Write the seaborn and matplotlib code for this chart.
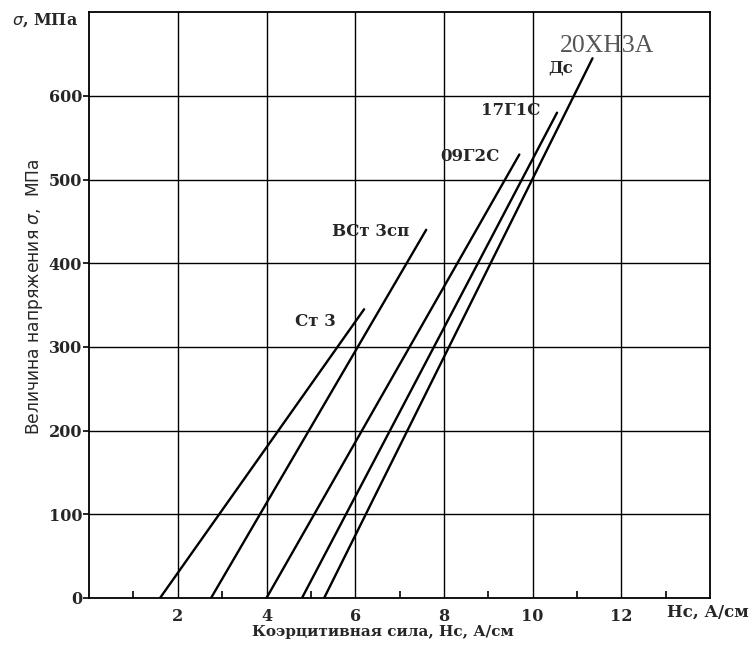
import numpy as np
import pandas as pd
import matplotlib
matplotlib.use("Agg")
import matplotlib.pyplot as plt
from matplotlib.ticker import FixedLocator
import seaborn as sns

# ── Data: straight calibration lines sigma(Hc), from sigma=0 to the top end ──
materials = ["Ст 3", "ВСт 3сп", "09Г2С", "17Г1С", "Дс"]
hc_start = [1.6, 2.75, 4.0, 4.8, 5.3]        # Hc at sigma = 0, A/cm
hc_end = [6.2, 7.6, 9.7, 10.55, 11.35]       # Hc at upper end, A/cm
sigma_end = [345, 440, 530, 580, 645]        # sigma at upper end, MPa

x_ticks = [2, 4, 6, 8, 10, 12]
x_minor = [1, 3, 5, 7, 9, 11, 13]
y_ticks = [0, 100, 200, 300, 400, 500, 600]

rows = []
for m, x0, x1, y1 in zip(materials, hc_start, hc_end, sigma_end):
    rows.append({"material": m, "Hc": x0, "sigma": 0})
    rows.append({"material": m, "Hc": x1, "sigma": y1})
df = pd.DataFrame(rows)

# ── Style ──
sns.set_style("white")
plt.rcParams["font.family"] = ["DejaVu Serif"]
BOLD = dict(family=["DejaVu Serif"], fontweight="bold")

fig = plt.figure(figsize=(7.49, 6.45), dpi=100)
ax = fig.add_axes([0.119, 0.073, 0.829, 0.908])

sns.lineplot(data=df, x="Hc", y="sigma", units="material", estimator=None,
             color="black", linewidth=1.7, ax=ax, legend=False)

ax.set_xlim(0, 14)
ax.set_ylim(0, 700)

# grid
for v in x_ticks:
    ax.axvline(v, color="black", linewidth=1.0, zorder=0)
for v in y_ticks[1:]:
    ax.axhline(v, color="black", linewidth=1.0, zorder=0)

for s in ax.spines.values():
    s.set_color("black")
    s.set_linewidth(1.3)

ax.xaxis.set_major_locator(FixedLocator(x_ticks))
ax.xaxis.set_minor_locator(FixedLocator(x_minor))
ax.yaxis.set_major_locator(FixedLocator(y_ticks))
ax.tick_params(axis="x", which="major", length=0, pad=7, labelsize=11.5)
ax.tick_params(axis="x", which="minor", direction="in", length=5, width=1.2, color="black", bottom=True)
ax.tick_params(axis="y", which="major", direction="out", length=4, width=1.2, color="black",
               left=True, labelsize=11.5, pad=1)
for lab in ax.get_xticklabels() + ax.get_yticklabels():
    lab.set_fontweight("bold")

ax.set_xlabel("")
ax.set_ylabel("")

# axis titles
fig.text(383 / 749, 1 - 632 / 645, "Коэрцитивная сила, Нс, А/см", ha="center", va="center",
         fontsize=11, **BOLD)
fig.text(667 / 749, 1 - 612 / 645, "Нс, А/см", ha="left", va="center",
         fontsize=12, **BOLD)
fig.text(35 / 749, 1 - 297 / 645, r"Величина напряжения $\sigma$,  МПа", ha="center", va="center",
         rotation=90, fontsize=12.3, family=["DejaVu Sans"])
fig.text(12 / 749, 1 - 20 / 645, r"$\sigma$, МПа", ha="left", va="center",
         fontsize=11.5, **BOLD)

# line labels (layout)
label_pos = {
    "Ст 3": (5.1, 330),
    "ВСт 3сп": (6.35, 438),
    "09Г2С": (8.58, 528),
    "17Г1С": (9.5, 582),
    "Дс": (10.63, 633),
}
for m in materials:
    x, y = label_pos[m]
    ax.text(x, y, m, ha="center", va="center", fontsize=12, **BOLD)
ax.text(11.68, 660, "20ХН3А", ha="center", va="center", fontsize=18.5,
        family=["Liberation Serif"], color="#555555")

fig.savefig("out.png", dpi=100, facecolor="white")
